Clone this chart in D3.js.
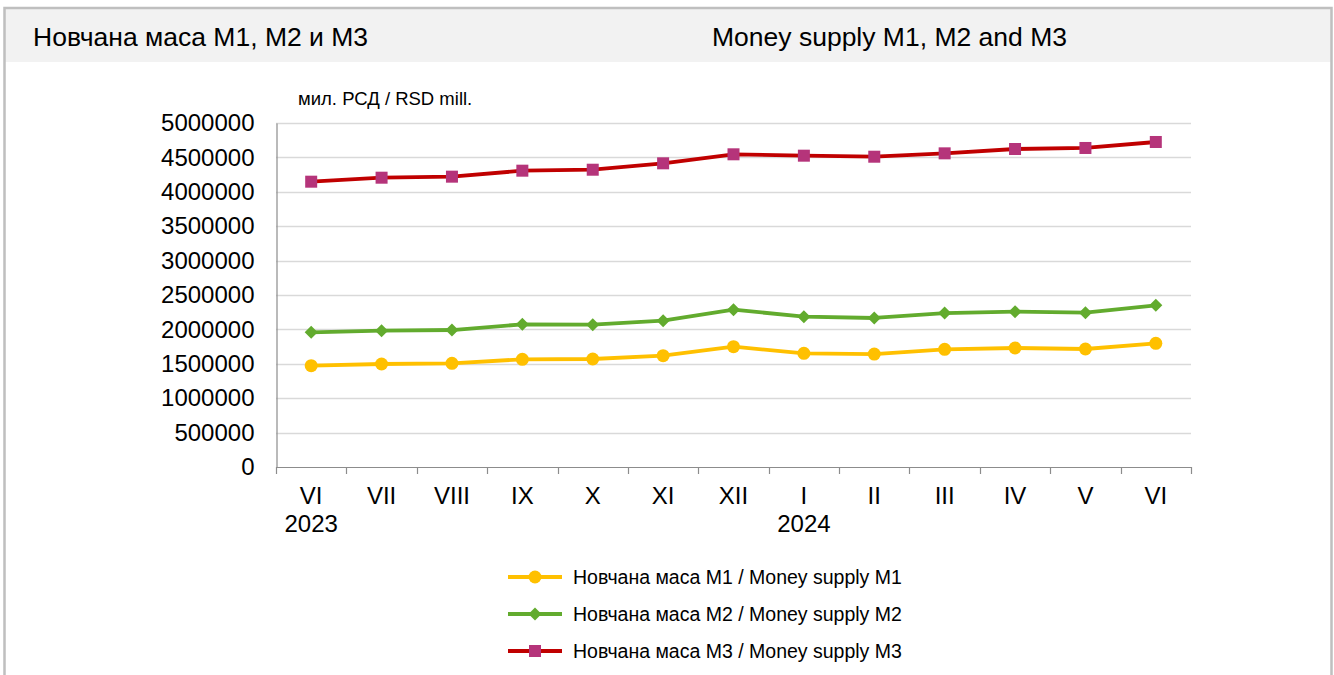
<!DOCTYPE html>
<html>
<head>
<meta charset="utf-8">
<script src="https://cdn.jsdelivr.net/npm/d3@7"></script>
<style>
  body { margin: 0; background: #fff; font-family: "Liberation Sans", Arial, sans-serif; }
</style>
</head>
<body>
<script>
// Categories (months) and the year labels under them
const months = ["VI", "VII", "VIII", "IX", "X", "XI", "XII", "I", "II", "III", "IV", "V", "VI"];
const years = ["2023", "", "", "", "", "", "", "2024", "", "", "", "", ""];

// Series values, RSD mill.
const m1 = [1473000, 1497000, 1507000, 1565000, 1570000, 1618000, 1749000, 1652000, 1642000, 1710000, 1730000, 1715000, 1798000];
const m2 = [1958000, 1981000, 1991000, 2074000, 2068000, 2127000, 2287000, 2185000, 2166000, 2238000, 2258000, 2243000, 2350000];
const m3 = [4147000, 4205000, 4220000, 4307000, 4321000, 4414000, 4545000, 4525000, 4510000, 4559000, 4622000, 4637000, 4724000];

const yTicks = [0, 500000, 1000000, 1500000, 2000000, 2500000, 3000000, 3500000, 4000000, 4500000, 5000000];

const seriesNames = [
  "Новчана маса M1 / Money supply M1",
  "Новчана маса M2 / Money supply M2",
  "Новчана маса M3 / Money supply M3"
];

const series = [
  { name: seriesNames[0], values: m1, line: "#FFC000", fill: "#FFC000", marker: "circle" },
  { name: seriesNames[1], values: m2, line: "#62AB2E", fill: "#62AB2E", marker: "diamond" },
  { name: seriesNames[2], values: m3, line: "#C00000", fill: "#B5347A", marker: "square" }
];

const W = 1334, H = 675;
const plot = { left: 276, right: 1191, top: 123, bottom: 467 };

const svg = d3.select("body").append("svg")
    .attr("width", W)
    .attr("height", H);

// frame and header band
svg.append("rect")
    .attr("x", 4).attr("y", 8)
    .attr("width", 1328).attr("height", 54)
    .attr("fill", "#f2f2f2");
svg.append("path")
    .attr("d", "M4.5,680 V8 H1331.5 V680")
    .attr("fill", "none")
    .attr("stroke", "#bfbfbf")
    .attr("stroke-width", 2.5);

svg.append("text")
    .attr("x", 33).attr("y", 46)
    .attr("font-size", 26.5)
    .attr("fill", "#000")
    .text("Новчана маса M1, M2 и M3");
svg.append("text")
    .attr("x", 712).attr("y", 46)
    .attr("font-size", 26.5)
    .attr("fill", "#000")
    .text("Money supply M1, M2 and M3");

svg.append("text")
    .attr("x", 298).attr("y", 105)
    .attr("font-size", 18.5)
    .attr("fill", "#000")
    .text("мил. РСД / RSD mill.");

// scales
const x = d3.scaleBand()
    .domain(d3.range(months.length))
    .range([plot.left, plot.right]);

const y = d3.scaleLinear()
    .domain([0, 5000000])
    .range([plot.bottom, plot.top]);

// gridlines
svg.append("g")
    .selectAll("line")
    .data(yTicks.slice(1))
    .join("line")
      .attr("x1", plot.left).attr("x2", plot.right)
      .attr("y1", d => Math.round(y(d)) + 0.5)
      .attr("y2", d => Math.round(y(d)) + 0.5)
      .attr("stroke", "#d9d9d9")
      .attr("stroke-width", 1.3);

// Y axis
const yAxis = d3.axisLeft(y)
    .tickValues(yTicks)
    .tickFormat(d3.format("d"))
    .tickSize(0)
    .tickPadding(22);

const gy = svg.append("g")
    .attr("transform", "translate(" + (plot.left + 0.5) + ",0)")
    .call(yAxis);
gy.select(".domain").attr("stroke", "#8c8c8c").attr("stroke-width", 1.2);
gy.selectAll("text")
    .attr("font-size", 24)
    .attr("font-family", "Liberation Sans, Arial, sans-serif")
    .attr("fill", "#000");

// X axis: ticks on band boundaries
const xb = d3.scaleLinear().domain([0, months.length]).range([plot.left, plot.right]);
const gx = svg.append("g");
gx.append("line")
    .attr("x1", plot.left).attr("x2", plot.right)
    .attr("y1", Math.round(plot.bottom) + 0.5).attr("y2", Math.round(plot.bottom) + 0.5)
    .attr("stroke", "#8c8c8c").attr("stroke-width", 1.2);
gx.selectAll("line.tick")
    .data(d3.range(months.length + 1))
    .join("line")
      .attr("class", "tick")
      .attr("x1", d => Math.round(xb(d)) + 0.5)
      .attr("x2", d => Math.round(xb(d)) + 0.5)
      .attr("y1", plot.bottom).attr("y2", plot.bottom + 7)
      .attr("stroke", "#8c8c8c").attr("stroke-width", 1.2);
gx.selectAll("text.month")
    .data(months)
    .join("text")
      .attr("class", "month")
      .attr("x", (d, i) => x(i) + x.bandwidth() / 2)
      .attr("y", 504)
      .attr("text-anchor", "middle")
      .attr("font-size", 24)
      .attr("fill", "#000")
      .text(d => d);
gx.selectAll("text.year")
    .data(years)
    .join("text")
      .attr("class", "year")
      .attr("x", (d, i) => x(i) + x.bandwidth() / 2)
      .attr("y", 532)
      .attr("text-anchor", "middle")
      .attr("font-size", 24)
      .attr("fill", "#000")
      .text(d => d);

// markers
function drawMarker(g, type, fill) {
    if (type === "circle") {
        g.append("circle").attr("r", 6.5).attr("fill", fill);
    } else if (type === "diamond") {
        g.append("path").attr("d", "M0,-6.5 L6.5,0 L0,6.5 L-6.5,0 Z").attr("fill", fill);
    } else {
        g.append("rect").attr("x", -6).attr("y", -6).attr("width", 12).attr("height", 12).attr("fill", fill);
    }
}

const line = d3.line()
    .x((d, i) => x(i) + x.bandwidth() / 2)
    .y(d => y(d));

series.forEach(s => {
    svg.append("path")
        .datum(s.values)
        .attr("d", line)
        .attr("fill", "none")
        .attr("stroke", s.line)
        .attr("stroke-width", 3.8)
        .attr("stroke-linejoin", "round");

    svg.append("g")
        .selectAll("g")
        .data(s.values)
        .join("g")
          .attr("transform", (d, i) => "translate(" + (x(i) + x.bandwidth() / 2) + "," + y(d) + ")")
          .each(function() { drawMarker(d3.select(this), s.marker, s.fill); });
});

// legend
const legend = svg.append("g");
series.forEach((s, i) => {
    const ly = 577 + i * 37;
    const row = legend.append("g").attr("transform", "translate(0," + ly + ")");
    row.append("line")
        .attr("x1", 508).attr("x2", 562)
        .attr("stroke", s.line).attr("stroke-width", 3.8);
    const mk = row.append("g").attr("transform", "translate(535,0)");
    drawMarker(mk, s.marker, s.fill);
    row.append("text")
        .attr("x", 573).attr("y", 7)
        .attr("font-size", 19.5)
        .attr("fill", "#000")
        .text(s.name);
});
</script>
</body>
</html>
